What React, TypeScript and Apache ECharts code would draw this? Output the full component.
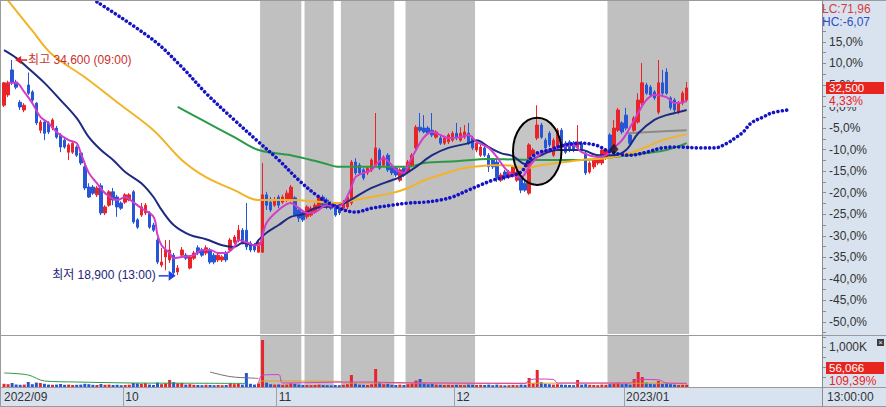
import React, { useEffect, useRef } from "react";
import * as echarts from "echarts";

// ---------- data ----------
const CATEGORY_COUNT = 203; // 170 candles + 26 forward slots + blank
const MONTH_LABELS: Record<number, string> = { 0: "2022/09", 30: "10", 68: "11", 112: "12", 154: "2023/01" };
const PRICE_LABEL_VALUES = [15, 10, 5, 0, -5, -10, -15, -20, -25, -30, -35, -40, -45, -50];
const PRICE_TICK_VALUES = [22.5, 20, 17.5, 15, 12.5, 10, 7.5, 5, 2.5, 0, -2.5, -5, -7.5, -10, -12.5, -15, -17.5, -20, -22.5, -25, -27.5, -30, -32.5, -35, -37.5, -40, -42.5, -45, -47.5, -50, -52.5];
const VOLUME_LABEL_VALUES = [1000];
const VOLUME_TICK_VALUES = [250, 500, 750, 1000, 1250];

// [open, close, low, high] in % vs. base price 31,150
const CANDLES: number[][] = [
  [0.3, 5.5, -0.1, 5.7], [2.7, 5.5, 2.2, 6.0], [8.5, 5.5, 5.0, 10.8], [5.7, 4.5, 4.0, 6.2], [1.0, -0.1, -0.8, 1.5],
  [-0.8, 0.3, -1.3, 0.8], [5.0, 3.1, 2.7, 7.9], [3.4, 1.5, 1.0, 3.8], [0.8, -3.8, -4.3, 1.0], [-5.5, -3.6, -6.2, -3.1],
  [-3.6, -6.2, -7.8, -3.1], [-3.8, -5.9, -6.4, -3.4], [-5.0, -3.1, -5.5, -2.7], [-5.0, -7.1, -7.5, -4.5], [-6.6, -9.4, -10.6, -6.2],
  [-7.8, -9.4, -9.8, -7.3], [-10.6, -8.9, -12.4, -8.5], [-10.6, -8.5, -11.0, -8.0], [-9.4, -11.3, -11.7, -9.0], [-10.8, -13.1, -13.6, -10.3],
  [-14.0, -18.9, -19.4, -13.6], [-18.7, -21.0, -21.2, -17.8], [-18.7, -20.1, -20.5, -18.2], [-20.5, -18.9, -21.0, -18.4], [-18.4, -24.7, -25.2, -17.8],
  [-24.7, -23.3, -25.2, -22.9], [-22.9, -19.8, -23.3, -19.4], [-19.8, -21.7, -22.9, -18.9], [-21.0, -23.3, -25.6, -20.5], [-22.4, -23.6, -24.0, -22.0],
  [-22.2, -20.5, -22.6, -20.1], [-21.7, -20.5, -22.0, -20.1], [-19.8, -26.8, -27.2, -19.4], [-26.3, -28.0, -28.4, -25.9], [-25.2, -23.3, -25.6, -22.4],
  [-24.7, -22.9, -25.2, -22.4], [-24.7, -28.0, -28.4, -24.3], [-27.5, -28.7, -29.1, -27.0], [-31.0, -36.1, -36.6, -30.5], [-36.8, -36.1, -37.3, -32.8],
  [-34.9, -33.3, -38.0, -31.0], [-35.6, -33.3, -36.3, -31.0], [-34.5, -38.6, -39.3, -34.0], [-38.4, -37.5, -39.1, -36.8], [-34.5, -33.3, -34.9, -32.6],
  [-34.5, -35.2, -35.6, -34.0], [-37.5, -34.9, -37.8, -34.5], [-35.2, -34.0, -35.6, -33.5], [-32.8, -34.0, -34.5, -32.2], [-33.3, -34.5, -34.9, -32.8],
  [-34.0, -32.8, -34.5, -32.2], [-33.3, -36.1, -36.6, -32.8], [-34.5, -36.1, -36.6, -34.0], [-35.6, -34.5, -36.1, -34.0], [-35.6, -34.9, -36.1, -34.5],
  [-34.0, -35.6, -36.1, -33.5], [-33.3, -31.0, -33.8, -30.5], [-31.5, -30.3, -32.0, -29.8], [-31.0, -28.7, -31.5, -27.5], [-28.7, -31.5, -32.0, -28.2],
  [-28.7, -32.6, -33.3, -22.4], [-31.7, -33.3, -33.8, -31.2], [-32.2, -33.3, -33.8, -31.7], [-33.8, -31.5, -34.0, -31.0], [-33.8, -20.5, -34.0, -13.1],
  [-20.5, -22.9, -24.0, -19.8], [-22.2, -24.0, -24.5, -21.0], [-22.9, -21.7, -23.3, -21.0], [-21.0, -22.9, -23.6, -20.5], [-22.2, -21.0, -22.6, -20.5],
  [-21.7, -20.1, -22.2, -19.4], [-21.7, -18.7, -22.0, -18.2], [-21.2, -25.2, -25.6, -20.8], [-24.0, -25.9, -26.8, -23.6], [-24.5, -26.3, -26.8, -24.0],
  [-25.6, -23.3, -26.1, -22.9], [-25.2, -23.6, -25.6, -23.1], [-24.5, -22.9, -24.9, -22.4], [-23.6, -21.0, -24.0, -20.5], [-21.0, -22.9, -23.3, -20.5],
  [-21.7, -23.3, -23.8, -21.2], [-22.4, -23.6, -24.0, -22.0], [-22.9, -25.2, -25.6, -22.4], [-23.6, -24.7, -25.2, -23.1], [-23.6, -22.2, -24.0, -21.7],
  [-23.3, -21.0, -23.8, -20.5], [-22.4, -12.9, -22.9, -12.4], [-12.9, -15.4, -15.9, -12.0], [-13.6, -15.4, -15.9, -13.1], [-14.7, -16.6, -17.1, -14.3],
  [-15.4, -14.3, -15.9, -13.8], [-14.7, -12.4, -15.2, -12.0], [-13.6, -9.6, -14.0, -1.5], [-10.1, -14.3, -14.7, -9.6], [-13.6, -11.7, -14.0, -11.3],
  [-11.3, -14.7, -15.2, -10.8], [-14.0, -15.4, -15.9, -13.6], [-14.3, -15.9, -16.4, -13.8], [-17.1, -14.7, -17.5, -14.3], [-14.3, -15.9, -16.4, -13.8],
  [-15.2, -12.9, -15.6, -12.4], [-13.6, -11.3, -14.0, -10.8], [-9.6, -4.8, -10.1, -4.3], [-4.8, -5.5, -6.0, -1.5], [-5.0, -5.9, -6.2, -2.0],
  [-5.0, -6.2, -6.6, -4.5], [-5.5, -6.6, -7.1, -1.5], [-7.1, -5.9, -7.5, -5.5], [-7.3, -8.5, -8.9, -6.8], [-8.5, -7.3, -8.9, -6.8],
  [-8.2, -6.6, -8.7, -6.2], [-7.8, -6.2, -8.2, -5.7], [-6.2, -7.3, -7.8, -3.8], [-7.8, -6.2, -8.2, -4.8], [-7.1, -5.9, -7.5, -4.3],
  [-6.2, -8.5, -8.9, -3.8], [-7.3, -9.6, -10.1, -6.8], [-10.1, -8.5, -10.6, -8.0], [-11.3, -9.4, -11.7, -8.9], [-9.6, -11.3, -11.7, -9.1],
  [-11.3, -14.0, -15.2, -10.8], [-12.4, -14.0, -14.5, -12.0], [-12.9, -16.4, -17.5, -12.4], [-17.1, -15.9, -17.5, -15.4], [-15.2, -16.6, -17.1, -14.7],
  [-16.4, -15.2, -16.8, -14.7], [-15.9, -14.0, -16.4, -13.6], [-17.1, -15.2, -17.5, -14.7], [-16.4, -19.4, -20.1, -15.9], [-17.8, -19.4, -19.8, -17.3],
  [-20.1, -8.9, -20.5, -8.5], [-11.3, -10.1, -11.7, -9.6], [-7.3, -4.3, -7.8, 0.3], [-4.3, -7.1, -7.5, -3.8], [-7.8, -9.6, -10.1, -7.3],
  [-6.2, -8.9, -9.4, -5.7], [-11.3, -7.8, -11.7, -7.3], [-9.4, -5.5, -9.8, -5.0], [-5.5, -9.4, -9.8, -5.0], [-8.5, -10.6, -11.0, -8.0],
  [-8.2, -10.1, -10.6, -7.8], [-8.5, -10.1, -10.6, -8.0], [-9.6, -8.2, -10.1, -4.3], [-8.5, -10.1, -10.6, -8.0], [-10.8, -15.4, -15.9, -10.3],
  [-15.2, -13.1, -15.6, -12.7], [-14.0, -12.4, -14.5, -12.0], [-13.1, -12.0, -13.6, -11.5], [-13.1, -10.1, -13.6, -9.6], [-12.0, -10.1, -12.4, -9.6],
  [-6.6, -10.6, -11.0, -6.2], [-9.4, -5.0, -9.8, -3.1], [-5.5, -0.8, -5.9, -0.3], [-3.8, -5.9, -6.4, -3.4], [-2.0, -5.0, -5.5, -0.3],
  [-6.6, -8.5, -8.9, -6.2], [-5.5, -2.7, -5.9, -2.2], [-3.6, 1.5, -4.0, 3.1], [0.8, 5.5, 0.3, 10.1], [5.0, 3.1, 2.7, 5.5],
  [4.5, 2.7, 2.2, 5.0], [3.4, 2.0, 1.5, 3.8], [-1.3, 5.5, -1.8, 10.8], [5.5, 3.1, 2.7, 8.5], [8.0, 3.1, 2.7, 8.9],
  [2.0, -0.3, -0.8, 2.4], [1.5, -0.8, -1.3, 2.0], [-1.3, 0.8, -1.8, 1.3], [0.8, 3.1, 0.3, 3.6], [1.5, 4.33, 1.0, 5.7],
];

// volume in thousands of shares
const VOLUMES_K: number[] = [
  80, 70, 100, 60, 55, 60, 125, 70, 110, 100, 80, 60, 55, 60, 75, 55, 60, 50, 55, 60,
  80, 70, 55, 50, 75, 55, 60, 50, 55, 45, 50, 55, 100, 90, 80, 95, 60, 50, 110, 70,
  90, 175, 120, 90, 100, 60, 70, 55, 50, 45, 55, 50, 45, 50, 45, 50, 90, 70, 80, 60,
  350, 80, 60, 90, 1175, 110, 70, 60, 65, 55, 60, 90, 80, 60, 55, 50, 45, 50, 60, 50,
  45, 40, 50, 45, 55, 70, 300, 90, 60, 55, 50, 70, 450, 110, 70, 80, 55, 50, 60, 50,
  70, 90, 160, 200, 90, 70, 80, 60, 55, 50, 55, 50, 55, 50, 45, 60, 55, 50, 55, 50,
  60, 45, 60, 45, 40, 45, 50, 45, 60, 55, 225, 90, 425, 120, 80, 70, 60, 70, 60, 55,
  50, 45, 175, 60, 70, 55, 50, 45, 60, 55, 70, 90, 110, 70, 80, 60, 200, 375, 250, 110,
  80, 70, 150, 80, 90, 70, 60, 50, 55, 56,
];

const SHADED_RANGES: number[][] = [[64, 73], [75, 81], [84, 96], [100, 116], [150, 169]];

// moving averages: [candle index, %]
const MA_PINK: number[][] = [
  [1, 5.5], [3, 5.5], [5, 3.4], [7, 0.8], [9, -2.4], [11, -3.8], [13, -5.9], [16, -7.8], [18, -8.5], [19, -10.8],
  [21, -15.4], [23, -17.8], [25, -20.1], [28, -21.7], [30, -21.0], [32, -22.2], [34, -23.6], [37, -25.6], [38, -29.8], [39, -32.2],
  [41, -34.0], [42, -35.2], [44, -34.9], [47, -34.5], [49, -33.3], [51, -33.3], [53, -34.0], [55, -34.0], [57, -32.6], [58, -31.0],
  [60, -31.5], [62, -32.2], [63, -32.2], [65, -27.0], [68, -24.0], [71, -22.4], [73, -23.6], [75, -24.7], [77, -24.5], [80, -22.9],
  [82, -23.3], [84, -22.4], [86, -18.7], [87, -16.4], [89, -15.4], [91, -14.7], [92, -13.6], [94, -12.0], [96, -13.6], [97, -14.7],
  [99, -15.4], [100, -13.6], [102, -10.1], [104, -7.1], [106, -5.9], [108, -6.6], [110, -7.3], [113, -7.1], [115, -6.6], [117, -8.2],
  [120, -9.6], [122, -11.7], [124, -14.3], [126, -15.9], [128, -16.4], [130, -14.0], [132, -11.7], [134, -10.3], [138, -9.4], [141, -8.9],
  [143, -10.6], [147, -11.7], [149, -11.3], [151, -9.6], [153, -7.8], [155, -4.8], [157, -1.5], [159, 1.5], [161, 2.7], [164, 2.2],
  [166, 0.8], [167, 0.8], [169, 1.3],
];
const MA_NAVY: number[][] = [
  [0, 13.1], [3, 11.3], [6, 8.9], [10, 5.5], [14, 1.5], [18, -2.7], [21, -7.1], [24, -10.1], [27, -12.4], [30, -15.2],
  [34, -17.8], [37, -21.0], [39, -24.0], [42, -27.5], [46, -29.8], [50, -30.8], [54, -32.2], [57, -32.6], [59, -31.7], [62, -32.2],
  [63, -31.0], [65, -29.3], [68, -27.5], [71, -25.6], [74, -25.0], [77, -23.6], [83, -22.9], [87, -21.0], [91, -18.9], [96, -17.1],
  [98, -16.4], [102, -14.0], [106, -11.3], [110, -9.6], [115, -8.5], [117, -7.8], [120, -9.4], [123, -10.8], [126, -11.5], [129, -13.3],
  [132, -11.7], [137, -10.1], [143, -10.1], [147, -11.3], [151, -11.3], [154, -10.1], [157, -6.2], [161, -3.1], [164, -2.0], [167, -1.3],
  [169, -0.8],
];
const MA_ORANGE: number[][] = [
  [0, 25.8], [7, 17.6], [12, 12.0], [20, 6.8], [28, 1.0], [37, -5.5], [44, -12.4], [50, -16.4], [57, -19.4], [63, -21.7],
  [71, -21.7], [79, -22.2], [83, -22.4], [87, -21.7], [91, -21.0], [96, -20.1], [100, -18.9], [104, -17.1], [108, -15.9], [112, -14.7],
  [116, -14.0], [121, -13.6], [124, -13.6], [129, -14.3], [133, -13.6], [137, -13.1], [143, -12.4], [149, -12.0], [155, -10.8], [159, -9.4],
  [163, -7.8], [169, -6.4],
];
const MA_GREEN: number[][] = [
  [43, -0.1], [49, -3.1], [57, -7.1], [63, -10.1], [71, -11.3], [79, -13.1], [83, -14.0], [91, -14.0], [100, -14.0], [104, -13.1],
  [112, -12.7], [120, -12.2], [133, -12.4], [143, -12.4], [151, -11.7], [159, -10.8], [164, -10.1], [169, -8.5],
];
const MA_GRAY: number[][] = [[154, -6.2], [160, -5.9], [169, -5.5]];
const LEADING_SPAN: number[][] = [
  [23, 24.3], [37, 15.4], [44, 9.2], [50, 3.1], [57, -3.1], [63, -8.2], [68, -12.4], [73, -17.1], [78, -21.0], [83, -23.6],
  [87, -24.5], [91, -23.6], [96, -22.9], [100, -22.4], [104, -22.2], [108, -21.7], [111, -21.0], [115, -19.4], [118, -18.2], [121, -17.1],
  [124, -16.4], [128, -15.2], [130, -12.4], [132, -10.8], [135, -10.1], [138, -9.1], [143, -8.5], [147, -9.1], [149, -10.1], [152, -11.0],
  [155, -11.3], [159, -10.6], [163, -9.6], [167, -9.4], [172, -9.6], [176, -9.6], [179, -8.5], [181, -7.3], [183, -5.9], [185, -3.8],
  [188, -2.4], [190, -1.5], [194, -0.8],
];

// volume averages [index, K]
const VOL_MA_GREEN: number[][] = [[0, 350], [6, 300], [10, 150], [18, 125], [32, 100], [45, 95], [60, 90]];
const VOL_MA_GRAY: number[][] = [[51, 375], [56, 260], [61, 225], [63, 215]];
const VOL_MA_PINK: number[][] = [[63, 90], [64, 300], [68, 310], [69, 100], [86, 125], [91, 125], [96, 110], [129, 90], [130, 170], [132, 200], [136, 190], [137, 100], [155, 100], [156, 160], [158, 190], [162, 180], [164, 100], [169, 90]];
const VOL_MA_ORANGE: number[][] = [[63, 90], [64, 150], [83, 140], [84, 100], [169, 95]];

const HIGH_MARK = { index: 2, value: 10.8, text: "최고 34,600 (09:00)" };
const LOW_MARK = { index: 42, value: -39.3, text: "최저 18,900 (13:00)" };
const SIGNAL_MARK: number[] = [151, -9.9];
const CIRCLED = { center: [131.8, -10.4], radius: [5.8, 7.8] };

const RIGHT_TEXTS = { lc: "LC:71,96", hc: "HC:-6,07", price: "32,500", change: "4,33%", volume: "56,066", volumeChange: "109,39%", time: "13:00:00" };

// ---------- styling ----------
const UP = "#e8242a";
const DOWN = "#2456d6";
const STRIP = "#d9e3ef";
const SHADE = "#c0c0c0";
const FONT = '"Liberation Sans", "Noto Sans CJK KR", sans-serif';

function buildOption() {
  const cats = Array.from({ length: CATEGORY_COUNT }, (_, i) => String(i));
  const shade = cats.map((_, i) => (SHADED_RANGES.some(([a, b]) => i >= a && i <= b) ? 1 : "-"));
  const vol = VOLUMES_K.map((v, i) => ({ value: v, itemStyle: { color: CANDLES[i][1] >= CANDLES[i][0] ? UP : DOWN } }));
  const pctFmt = (v: number) => v.toFixed(1).replace(".", ",") + "%";
  const line = (data: number[][], color: string, width: number, x: number, y: number, z = 4) => ({
    type: "line", xAxisIndex: x, yAxisIndex: y, data, smooth: 0.35, symbol: "none", silent: true, z,
    lineStyle: { color, width }, connectNulls: true,
  });
  const hiddenCat = (grid: number) => ({ type: "category", gridIndex: grid, data: cats, show: false, boundaryGap: true });
  const shadeSeries = (x: number, y: number) => ({
    type: "bar", xAxisIndex: x, yAxisIndex: y, data: shade, barWidth: 4.9, silent: true, z: 1,
    itemStyle: { color: SHADE },
  });
  return {
    animation: false,
    backgroundColor: "#ffffff",
    grid: [
      { left: 2, top: 1, width: 820, height: 333, containLabel: false, outerBoundsMode: "none" },
      { left: 2, top: 336, width: 820, height: 51, containLabel: false, outerBoundsMode: "none" },
    ],
    xAxis: [
      hiddenCat(0),
      {
        type: "category", gridIndex: 1, data: cats, boundaryGap: true,
        axisLine: { lineStyle: { color: "#8c8c8c" } },
        axisTick: { show: true, length: 19, interval: (i: number) => i > 0 && i in MONTH_LABELS, lineStyle: { color: "#9aa3ad" } },
        axisLabel: {
          interval: (i: number) => i in MONTH_LABELS,
          formatter: (_v: string, i: number) => MONTH_LABELS[i] ?? "",
          align: "left", margin: 4, color: "#333", fontSize: 12, fontFamily: FONT,
        },
        splitLine: { show: false },
      },
      hiddenCat(0),
      hiddenCat(1),
    ],
    yAxis: [
      {
        type: "value", gridIndex: 0, position: "right", min: -52.8, max: 24.5,
        axisLine: { show: true, lineStyle: { color: "#8c8c8c" } },
        axisTick: { show: true, length: 4, customValues: PRICE_TICK_VALUES, lineStyle: { color: "#8c8c8c" } },
        axisLabel: { customValues: PRICE_LABEL_VALUES, formatter: pctFmt, margin: 7, color: "#333", fontSize: 12, fontFamily: FONT },
        splitLine: { show: false },
      },
      { type: "value", gridIndex: 0, min: 0, max: 1, show: false },
      {
        type: "value", gridIndex: 1, position: "right", min: 0, max: 1275,
        axisLine: { show: true, lineStyle: { color: "#8c8c8c" } },
        axisTick: { show: true, length: 4, customValues: VOLUME_TICK_VALUES, lineStyle: { color: "#8c8c8c" } },
        axisLabel: { customValues: VOLUME_LABEL_VALUES, formatter: () => "1,000K", margin: 7, color: "#333", fontSize: 12, fontFamily: FONT },
        splitLine: { show: false },
      },
      { type: "value", gridIndex: 1, min: 0, max: 1, show: false },
    ],
    series: [
      shadeSeries(2, 1),
      shadeSeries(3, 3),
      {
        type: "candlestick", xAxisIndex: 0, yAxisIndex: 0, data: CANDLES, barWidth: 3, z: 3, silent: true,
        itemStyle: { color: UP, color0: DOWN, borderColor: UP, borderColor0: DOWN, borderWidth: 1 },
      },
      line(MA_GREEN, "#2b9a45", 2, 0, 0),
      line(MA_ORANGE, "#f2b327", 2, 0, 0),
      line(MA_GRAY, "#8a8a8a", 2, 0, 0),
      line(MA_NAVY, "#1d2a82", 2, 0, 0),
      line(MA_PINK, "#d23ccb", 2, 0, 0),
      {
        type: "line", xAxisIndex: 0, yAxisIndex: 0, data: LEADING_SPAN, smooth: 0.35, symbol: "none", silent: true, z: 5,
        lineStyle: { color: "#1414c4", width: 3.6, type: [0.01, 4.4], cap: "round" },
      },
      {
        type: "scatter", xAxisIndex: 0, yAxisIndex: 0, data: [SIGNAL_MARK], symbol: "diamond", symbolSize: [9, 11], silent: true, z: 6,
        itemStyle: { color: "#111" },
      },
      { type: "bar", xAxisIndex: 1, yAxisIndex: 2, data: vol, barWidth: 3, silent: true, z: 3 },
      line(VOL_MA_GREEN, "#2b9a45", 1, 1, 2),
      line(VOL_MA_GRAY, "#6f6f6f", 1, 1, 2),
      line(VOL_MA_ORANGE, "#d9a520", 1, 1, 2),
      line(VOL_MA_PINK, "#d23ccb", 1, 1, 2),
    ],
  };
}

function staticGraphics() {
  const t = (text: string, x: number, y: number, fill: string, extra: any = {}) => ({
    type: "text", x, y, z: 100, silent: true,
    style: { text, fill, font: `12px ${FONT}`, verticalAlign: "top", ...extra },
  });
  const ln = (x1: number, y1: number, x2: number, y2: number, stroke = "#9a9a9a") => ({
    type: "line", z: 90, silent: true, shape: { x1, y1, x2, y2 }, style: { stroke, lineWidth: 1 },
  });
  return [
    { type: "rect", z: -1, silent: true, shape: { x: 822, y: 0, width: 64, height: 407 }, style: { fill: STRIP } },
    { type: "rect", z: -1, silent: true, shape: { x: 0, y: 388, width: 822, height: 19 }, style: { fill: STRIP } },
    ln(0, 0.5, 886, 0.5),
    ln(0, 335.5, 886, 335.5),
    ln(0, 387.5, 886, 387.5),
    ln(0, 406.5, 886, 406.5),
    ln(0.5, 0, 0.5, 407),
    ln(822.5, 0, 822.5, 407, "#8c8c8c"),
    t(RIGHT_TEXTS.lc, 822, 3, "#d83c3c"),
    t(RIGHT_TEXTS.hc, 822, 16, "#2c4fc4"),
    { type: "rect", z: 100, silent: true, shape: { x: 826, y: 82, width: 58, height: 12 }, style: { fill: "#e8241e" } },
    t(RIGHT_TEXTS.price, 829, 82, "#ffffff", { font: `11.5px ${FONT}` }),
    t(RIGHT_TEXTS.change, 829, 95, "#e8241e", { backgroundColor: STRIP, padding: [0, 2, 0, 0] }),
    { type: "rect", z: 100, silent: true, shape: { x: 826, y: 362, width: 58, height: 12 }, style: { fill: "#e8241e" } },
    t(RIGHT_TEXTS.volume, 829, 362, "#ffffff", { font: `11.5px ${FONT}` }),
    t(RIGHT_TEXTS.volumeChange, 829, 375, "#e8241e"),
    t(RIGHT_TEXTS.time, 827, 391, "#333333"),
    { type: "rect", z: 100, silent: true, shape: { x: 877, y: 339, width: 7, height: 7 }, style: { fill: "#3c3c3c" } },
    { type: "text", z: 101, silent: true, x: 880.5, y: 342.5, style: { text: "×", fill: "#fff", font: `7px ${FONT}`, align: "center", verticalAlign: "middle" } },
  ];
}

export default function App() {
  const ref = useRef<HTMLDivElement>(null);
  useEffect(() => {
    if (!ref.current) return;
    const chart = echarts.init(ref.current, null, { renderer: "svg" });
    chart.setOption(buildOption() as any);
    const p = (i: number, v: number) => chart.convertToPixel({ xAxisIndex: 0, yAxisIndex: 0 }, [i, v]) as number[];
    const [hx, hy] = p(HIGH_MARK.index, HIGH_MARK.value);
    const [lx, ly] = p(LOW_MARK.index, LOW_MARK.value);
    const [cx, cy] = p(CIRCLED.center[0], CIRCLED.center[1]);
    const [ex, ey] = p(CIRCLED.center[0] + CIRCLED.radius[0], CIRCLED.center[1] - CIRCLED.radius[1]);
    const ht = hx + 3;
    const lt = lx + 2;
    const dynamic = [
      { type: "polygon", z: 100, silent: true, shape: { points: [[ht, hy], [ht + 6, hy - 4], [ht + 6, hy + 4]] }, style: { fill: "#e02020" } },
      { type: "line", z: 100, silent: true, shape: { x1: ht + 6, y1: hy, x2: ht + 12, y2: hy }, style: { stroke: "#e02020", lineWidth: 1.5 } },
      { type: "text", z: 100, silent: true, x: ht + 13, y: hy, style: { text: HIGH_MARK.text, fill: "#c8322d", font: `12px ${FONT}`, verticalAlign: "middle" } },
      { type: "polygon", z: 100, silent: true, shape: { points: [[lt, ly], [lt - 7, ly - 5], [lt - 7, ly + 5]] }, style: { fill: "#1f3fe0" } },
      { type: "line", z: 100, silent: true, shape: { x1: lt - 17, y1: ly, x2: lt - 7, y2: ly }, style: { stroke: "#1f3fe0", lineWidth: 1.5 } },
      { type: "text", z: 100, silent: true, x: lt - 20, y: ly - 1, style: { text: LOW_MARK.text, fill: "#23237a", font: `12px ${FONT}`, align: "right", verticalAlign: "middle" } },
      { type: "ellipse", z: 2, silent: true, shape: { cx, cy, rx: ex - cx, ry: ey - cy }, style: { fill: "rgba(150,150,150,0.55)" } },
      { type: "ellipse", z: 100, silent: true, shape: { cx, cy, rx: ex - cx, ry: ey - cy }, style: { fill: "none", stroke: "#000", lineWidth: 2 } },
    ];
    chart.setOption({ graphic: [...staticGraphics(), ...dynamic] } as any);
    return () => chart.dispose();
  }, []);
  return <div ref={ref} style={{ position: "fixed", left: 0, top: 0, width: 886, height: 407 }} />;
}
